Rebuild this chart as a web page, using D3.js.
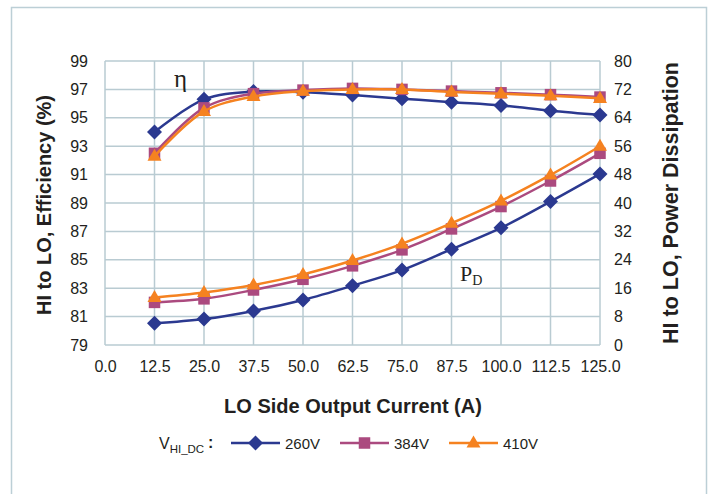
<!DOCTYPE html>
<html>
<head>
<meta charset="utf-8">
<script src="https://cdn.jsdelivr.net/npm/d3@7"></script>
<style>
  html, body { margin: 0; padding: 0; background: #ffffff; }
  svg { display: block; }
  text { font-family: "Liberation Sans", Arial, sans-serif; fill: #231f20; }
</style>
</head>
<body>
<svg id="chart" width="711" height="494"></svg>
<script>
// ---- data ----
const current = [12.5, 25.0, 37.5, 50.0, 62.5, 75.0, 87.5, 100.0, 112.5, 125.0];
const xTicks = [0, 12.5, 25, 37.5, 50, 62.5, 75, 87.5, 100, 112.5, 125];
const effTicks = [79, 81, 83, 85, 87, 89, 91, 93, 95, 97, 99];
const pdTicks = [0, 8, 16, 24, 32, 40, 48, 56, 64, 72, 80];
const seriesNames = ["260V", "384V", "410V"];
const eff260 = [94.0, 96.3, 96.85, 96.8, 96.6, 96.35, 96.1, 95.87, 95.5, 95.2];
const eff384 = [92.5, 95.7, 96.7, 96.95, 97.07, 97.0, 96.88, 96.76, 96.63, 96.46];
const eff410 = [92.3, 95.45, 96.5, 96.88, 97.0, 97.0, 96.82, 96.7, 96.56, 96.37];
const pd260 = [6.1, 7.3, 9.6, 12.7, 16.7, 21.1, 27.0, 33.0, 40.4, 48.2];
const pd384 = [12.0, 13.0, 15.5, 18.5, 22.3, 26.8, 32.7, 39.0, 46.2, 54.0];
const pd410 = [13.4, 14.8, 16.9, 19.9, 23.8, 28.5, 34.3, 40.6, 47.9, 56.0];

const colors = ["#2b3990", "#ab4a7f", "#f58220"];
const markerTypes = ["diamond", "square", "triangle"];

const svg = d3.select("#chart");

// outer frame
svg.append("rect").attr("x", 11.5).attr("y", 7.5).attr("width", 695).attr("height", 500)
  .attr("fill", "#ffffff").attr("stroke", "#bccfd6").attr("stroke-width", 1.5);

const x = d3.scaleLinear().domain([0, 125]).range([105, 600]);
const yL = d3.scaleLinear().domain([79, 99]).range([345, 61]);
const yR = d3.scaleLinear().domain([0, 80]).range([345, 61]);

const gridColor = "#b9cbd2";
// grid
const grid = svg.append("g");
grid.selectAll("line.h").data(effTicks).join("line")
  .attr("x1", x(0)).attr("x2", x(125))
  .attr("y1", d => yL(d)).attr("y2", d => yL(d))
  .attr("stroke", gridColor).attr("stroke-width", 1.5);
grid.selectAll("line.v").data(xTicks).join("line")
  .attr("y1", yL(79)).attr("y2", yL(99))
  .attr("x1", d => x(d)).attr("x2", d => x(d))
  .attr("stroke", gridColor).attr("stroke-width", 1.5);

// axes (labels only, via d3 axis generators)
const axL = svg.append("g").attr("transform", `translate(${x(0) - 4},0)`)
  .call(d3.axisLeft(yL).tickValues(effTicks).tickSize(0).tickPadding(13).tickFormat(d3.format("d")));
const axR = svg.append("g").attr("transform", `translate(${x(125) + 4},0)`)
  .call(d3.axisRight(yR).tickValues(pdTicks).tickSize(0).tickPadding(10).tickFormat(d3.format("d")));
const axB = svg.append("g").attr("transform", `translate(0,${yL(79) + 8})`)
  .call(d3.axisBottom(x).tickValues(xTicks).tickSize(0).tickPadding(8).tickFormat(d3.format(".1f")));
[axL, axR, axB].forEach(a => {
  a.select(".domain").remove();
  a.selectAll("text").attr("font-size", 16).attr("fill", "#231f20")
    .attr("font-family", "'Liberation Sans', Arial, sans-serif");
});

// axis titles
svg.append("text").attr("transform", `translate(51,${(yL(79) + yL(99)) / 2 + 2}) rotate(-90)`)
  .attr("text-anchor", "middle").attr("font-size", 20).attr("font-weight", "bold")
  .text("HI to LO, Efficiency (%)");
svg.append("text").attr("transform", `translate(678,${(yL(79) + yL(99)) / 2}) rotate(-90)`)
  .attr("text-anchor", "middle").attr("font-size", 21.5).attr("font-weight", "bold")
  .text("HI to LO, Power Dissipation");
svg.append("text").attr("x", 353).attr("y", 413)
  .attr("text-anchor", "middle").attr("font-size", 20).attr("font-weight", "bold")
  .text("LO Side Output Current (A)");

// markers
function drawMarker(g, type, cx, cy, color) {
  if (type === "diamond") {
    const r = 7.5;
    g.append("path").attr("d", `M${cx},${cy - r}L${cx + r},${cy}L${cx},${cy + r}L${cx - r},${cy}Z`)
      .attr("fill", color);
  } else if (type === "square") {
    const s = 11.5;
    g.append("rect").attr("x", cx - s / 2).attr("y", cy - s / 2).attr("width", s).attr("height", s)
      .attr("fill", color);
  } else {
    const h = 12, w = 14;
    g.append("path").attr("d", `M${cx},${cy - h * 0.62}L${cx + w / 2},${cy + h * 0.38}L${cx - w / 2},${cy + h * 0.38}Z`)
      .attr("fill", color);
  }
}

const effSets = [eff260, eff384, eff410];
const pdSets = [pd260, pd384, pd410];
const line = (ys) => d3.line().x((d, i) => x(current[i])).y(d => ys(d)).curve(d3.curveCatmullRom.alpha(0.5));

const plot = svg.append("g");
for (let s = 0; s < 3; s++) {
  const g = plot.append("g");
  g.append("path").datum(effSets[s]).attr("d", line(yL)).attr("fill", "none")
    .attr("stroke", colors[s]).attr("stroke-width", 2.5);
  g.append("path").datum(pdSets[s]).attr("d", line(yR)).attr("fill", "none")
    .attr("stroke", colors[s]).attr("stroke-width", 2.5);
  effSets[s].forEach((v, i) => drawMarker(g, markerTypes[s], x(current[i]), yL(v), colors[s]));
  pdSets[s].forEach((v, i) => drawMarker(g, markerTypes[s], x(current[i]), yR(v), colors[s]));
}

// annotations
svg.append("text").attr("x", 174).attr("y", 87).attr("font-size", 25)
  .style("font-family", "'Liberation Serif', 'DejaVu Serif', serif").text("η");
const pdLabel = svg.append("text").attr("x", 460).attr("y", 281).attr("font-size", 22)
  .style("font-family", "'Liberation Serif', 'DejaVu Serif', serif");
pdLabel.append("tspan").text("P");
pdLabel.append("tspan").attr("font-size", 14).attr("dy", 4).text("D");

// legend
const legY = 443;
const vLab = svg.append("text").attr("x", 159).attr("y", legY + 6).attr("font-size", 16);
vLab.append("tspan").text("V");
vLab.append("tspan").attr("font-size", 11.5).attr("dy", 4).text("HI_DC");
svg.append("text").attr("x", 208).attr("y", legY + 5).attr("font-size", 16).attr("font-weight", "bold").text(":");

const legX = [231, 340, 449];
seriesNames.forEach((name, s) => {
  const g = svg.append("g");
  g.append("line").attr("x1", legX[s]).attr("x2", legX[s] + 49).attr("y1", legY).attr("y2", legY)
    .attr("stroke", colors[s]).attr("stroke-width", 2.5);
  drawMarker(g, markerTypes[s], legX[s] + 24.5, legY, colors[s]);
  g.append("text").attr("x", legX[s] + 54).attr("y", legY + 5.5).attr("font-size", 15).text(name);
});
</script>
</body>
</html>
